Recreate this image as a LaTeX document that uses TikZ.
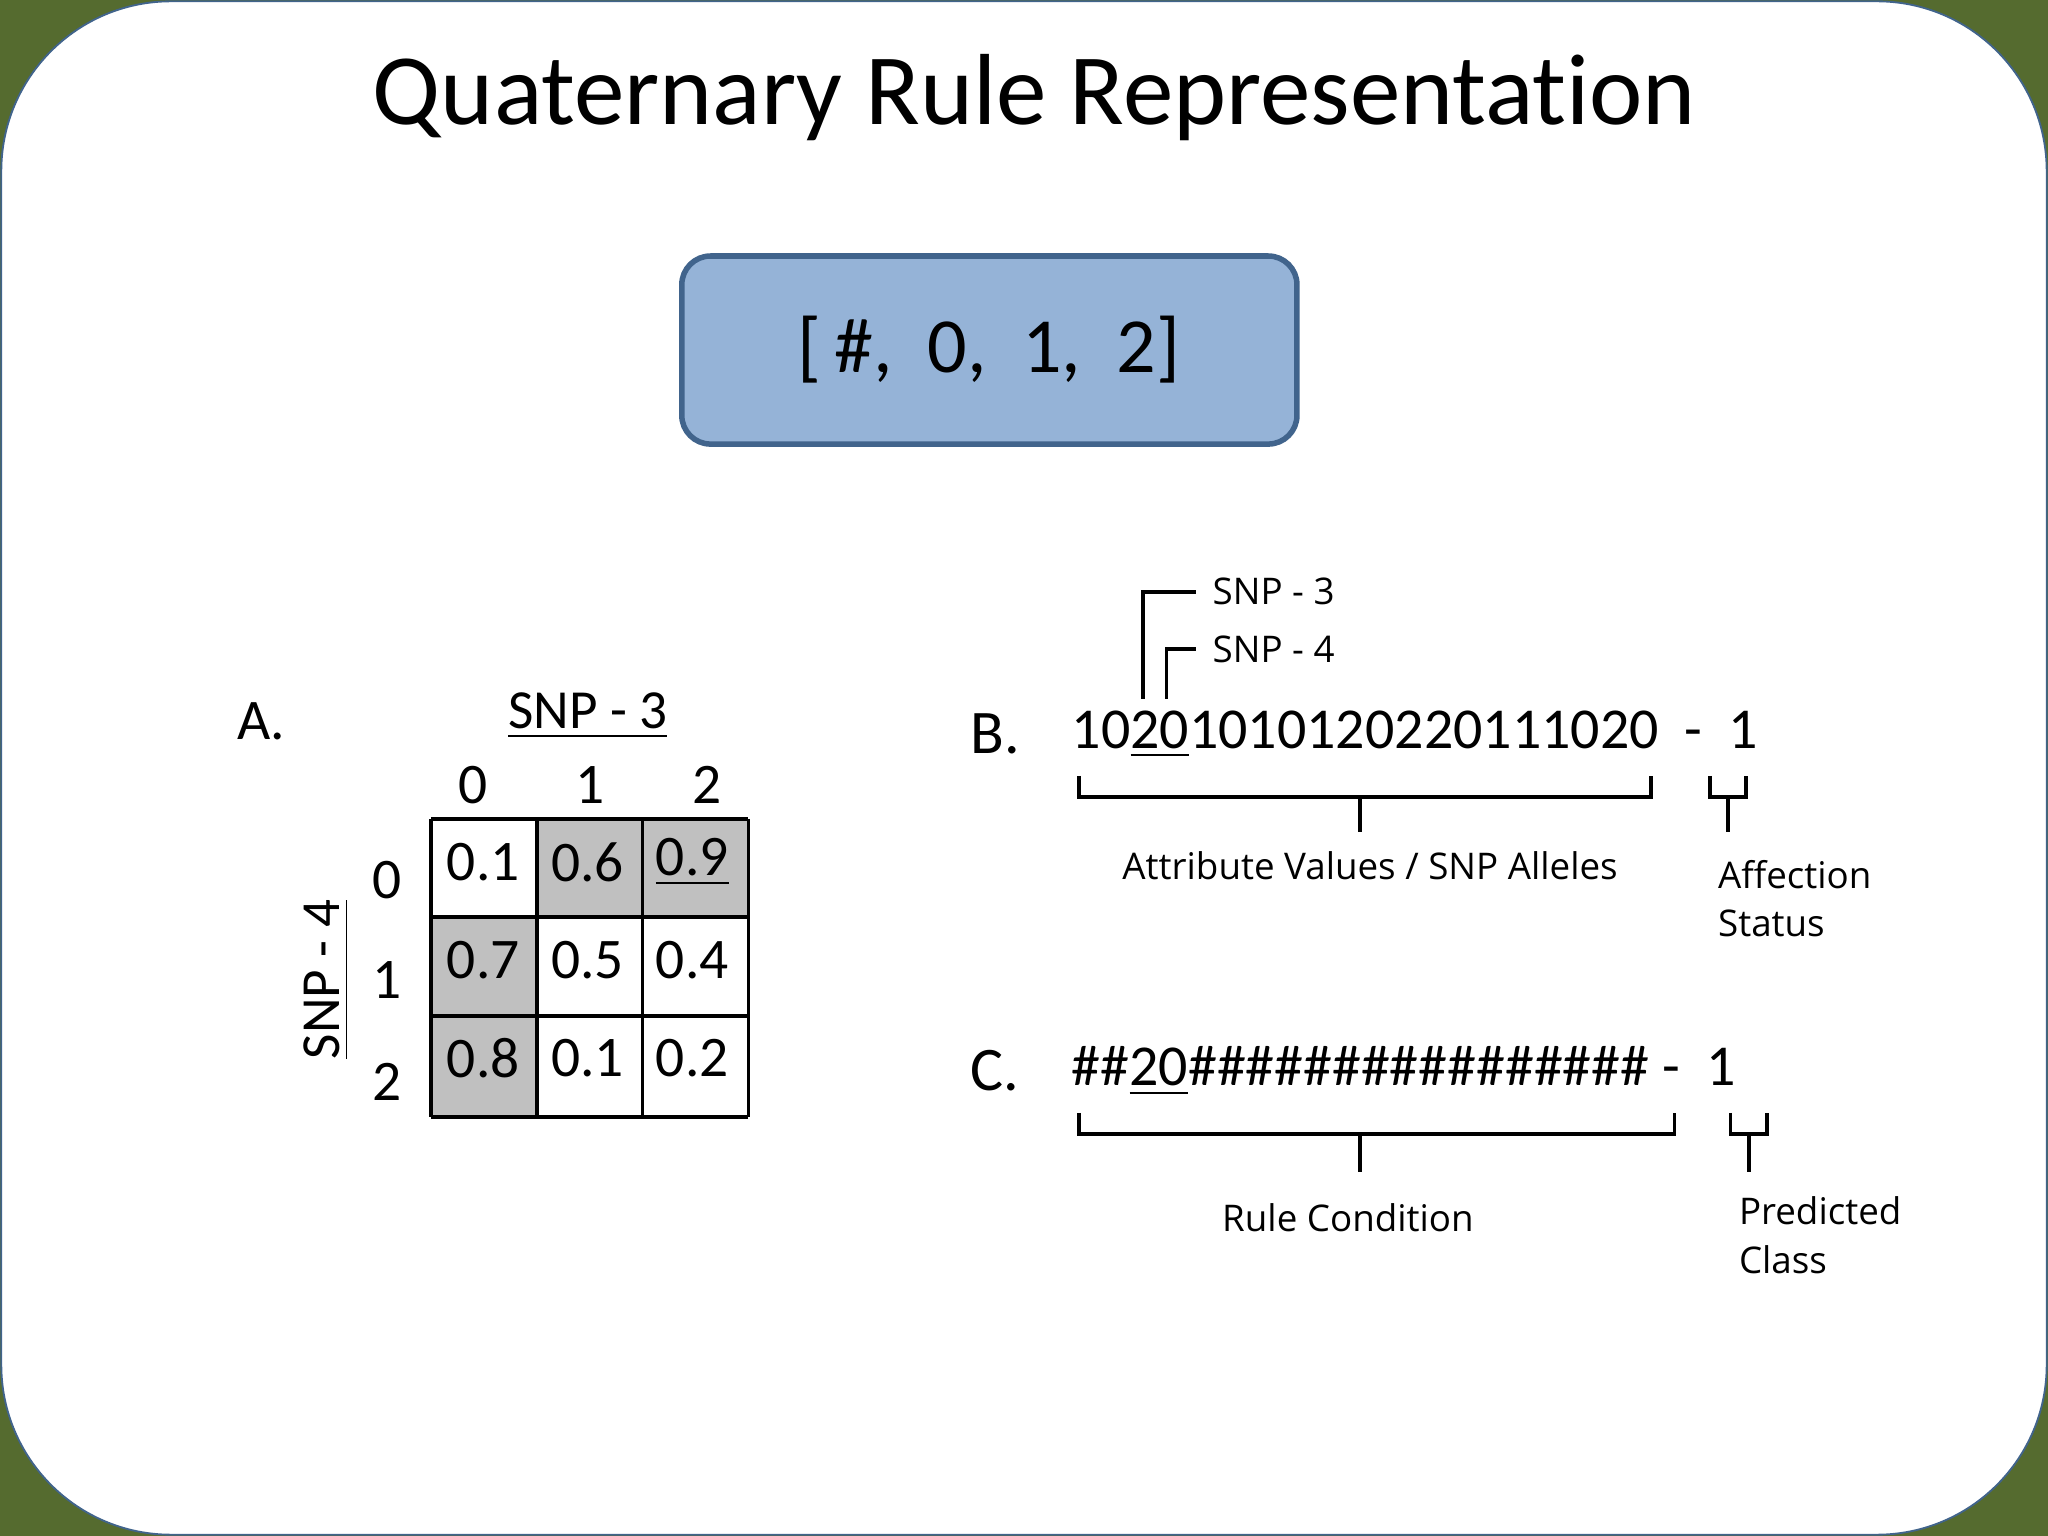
\documentclass[tikz,border=0pt]{standalone}
\usepackage{fontspec}
\setmainfont{Carlito}[Ligatures=NoCommon]
\newfontfamily\labelfont{Open Sans}
\usetikzlibrary{positioning}
\definecolor{olive}{RGB}{85,107,47}
\definecolor{boxblue}{RGB}{149,179,215}
\definecolor{boxedge}{RGB}{65,100,140}
\definecolor{cellgray}{RGB}{192,192,192}
\tikzset{
	val/.style={font=\fontsize{12.5}{14}\selectfont},
	code/.style={font=\fontsize{12.6}{16}\selectfont,anchor=west,inner sep=0pt},
	tag/.style={font=\labelfont\fontsize{8}{10.5}\selectfont,align=left},
	brace/.style={draw=black,thick}}

\begin{document}
\begin{tikzpicture}[x=0.01cm,y=-0.01cm]
	\useasboundingbox (0,0) rectangle (1568,1176);
	\fill[olive] (0,0) rectangle (1568,1176);
	\draw[boxedge,fill=white,rounded corners=1.3cm] (1,1) rectangle (1567,1175);
	\node (title) at (792,75) {\fontsize{22}{26}\selectfont Quaternary Rule Representation};
	\draw[boxedge,very thick,fill=boxblue,rounded corners=0.22cm] (522,196) rectangle (993,340);
	\node (rule) at (757,268) {\fontsize{17}{20}\selectfont [\,\#,\ \ 0,\ \ 1,\ \ 2]};

	% panel A
	\node (A) at (200,552) {\fontsize{12.5}{14}\selectfont A.};
	\node (snp3) at (450,548) {\fontsize{12}{14}\selectfont\underline{SNP - 3}};
	\node[rotate=90] (snp4) at (250,750) {\fontsize{12}{14}\selectfont\underline{SNP - 4}};
	\foreach \c/\x in {0/362,1/452,2/541}
		\node[val] (col\c) at (\x,601) {\c};
	\foreach \r/\y in {0/674,1/750,2/828}
		\node[val] (row\r) at (296,\y) {\r};
	\fill[cellgray] (411,627) rectangle (573,702);
	\fill[cellgray] (330,702) rectangle (411,855);
	\foreach \x in {330,411,492,573}
		\draw[thick] (\x,627) -- (\x,855);
	\foreach \y in {627,702,778,855}
		\draw[thick] (330,\y) -- (573,\y);
	\foreach \r/\y/\a/\b/\c in {0/660/0.1/0.6/\underline{0.9},1/735/0.7/0.5/0.4,2/810/0.8/0.1/0.2}{
		\node[val] at (370,\y) {\a};
		\node[val] at (450,\y) {\b};
		\node[val] at (530,\y) {\c};}

	% panel B
	\node (B) at (762,562) {\fontsize{13.5}{16}\selectfont B.};
	\node[code] (bstr) at (820,562) {10\underline{20}1010120220111020 \ - \ 1};
	\coordinate (p3) at (875,535);
	\coordinate (p4) at (893,535);
	\node[tag,anchor=west] (t3) at (916,453) {SNP - 3};
	\node[tag,anchor=west] (t4) at (916,497) {SNP - 4};
	\draw[brace] (p3) |- (t3.west);
	\draw[brace] (p4) |- (t4.west);
	\draw[brace] (826,594) |- (1264,610) -- (1264,594);
	\draw[brace] (1041,610) -- (1041,637);
	\draw[brace] (1309,594) |- (1337,610) -- (1337,594);
	\draw[brace] (1323,610) -- (1323,637);
	\node[tag] (attr) at (1049,663) {Attribute Values / SNP Alleles};
	\node[tag,anchor=north west] (aff) at (1303,646) {Affection\\Status};

	% panel C
	\node (C) at (762,820) {\fontsize{13.5}{16}\selectfont C.};
	\node[code] (cstr) at (820,820) {\#\#\underline{20}\#\#\#\#\#\#\#\#\#\#\#\#\#\#\#\# - \ 1};
	\draw[brace] (826,852) |- (1282,868) -- (1282,852);
	\draw[brace] (1041,868) -- (1041,897);
	\draw[brace] (1325,852) |- (1353,868) -- (1353,852);
	\draw[brace] (1339,868) -- (1339,897);
	\node[tag] (cond) at (1032,932) {Rule Condition};
	\node[tag,anchor=north west] (pred) at (1319,904) {Predicted\\Class};
\end{tikzpicture}
\end{document}
